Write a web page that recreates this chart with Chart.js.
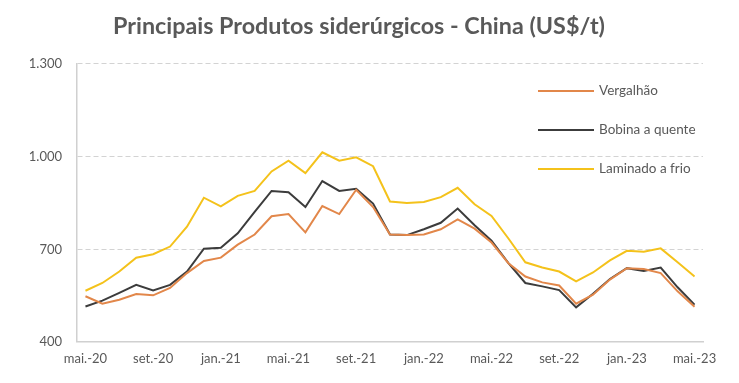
<!DOCTYPE html>
<html>
<head>
<meta charset="utf-8">
<script src="https://cdn.jsdelivr.net/npm/chart.js@4.4.0/dist/chart.umd.min.js"></script>
<style>
html,body{margin:0;padding:0;background:#fff;}
canvas{display:block;}
</style>
</head>
<body>
<canvas id="c" width="739" height="383"></canvas>
<script>
const months = ['jan.','fev.','mar.','abr.','mai.','jun.','jul.','ago.','set.','out.','nov.','dez.'];
const categories = [];
for (let y = 20; y <= 23; y++) {
  for (let m = 0; m < 12; m++) {
    if ((y === 20 && m < 4) || (y === 23 && m > 4)) continue;
    categories.push(months[m] + '-' + y);
  }
}
const vergalhao = [548,524,537,555,551,575,623,662,673,715,748,807,814,755,840,814,893,837,748,746,748,765,797,767,722,655,612,593,583,524,553,602,639,636,623,564,514];
const bobinaQuente = [515,534,559,585,567,585,628,702,705,752,821,889,885,837,921,889,896,848,748,746,765,786,832,778,728,655,591,580,568,512,556,604,639,630,641,577,521];
const laminadoFrio = [566,591,628,673,684,709,773,867,839,873,889,952,987,947,1014,987,998,969,855,850,853,869,899,846,808,735,658,641,628,596,625,664,695,692,703,658,612];
const seriesNames = ['Vergalhão','Bobina a quente','Laminado a frio'];
const yTicks = [400,700,1000,1300];
const titleText = 'Principais Produtos siderúrgicos - China (US$/t)';

const colors = ['#E2874A','#3C3C3C','#F4C21B'];
const textColor = '#595959';

const legendPlugin = {
  id: 'insideLegend',
  afterDatasetsDraw(chart) {
    const ctx = chart.ctx;
    const ca = chart.chartArea;
    ctx.save();
    ctx.font = '13.5px Lato';
    ctx.textBaseline = 'middle';
    ctx.textAlign = 'left';
    chart.data.datasets.forEach((ds, i) => {
      const y = ca.top + 27 + 39 * i;
      const x0 = ca.right - 165;
      ctx.strokeStyle = ds.borderColor;
      ctx.lineWidth = 2;
      ctx.beginPath();
      ctx.moveTo(x0, y);
      ctx.lineTo(x0 + 56, y);
      ctx.stroke();
      ctx.fillStyle = textColor;
      ctx.fillText(ds.label, x0 + 61, y);
    });
    ctx.restore();
  }
};

new Chart(document.getElementById('c'), {
  type: 'line',
  data: {
    labels: categories,
    datasets: [
      {label: seriesNames[0], data: vergalhao, borderColor: colors[0], backgroundColor: colors[0]},
      {label: seriesNames[1], data: bobinaQuente, borderColor: colors[1], backgroundColor: colors[1]},
      {label: seriesNames[2], data: laminadoFrio, borderColor: colors[2], backgroundColor: colors[2]}
    ]
  },
  options: {
    responsive: false,
    animation: false,
    devicePixelRatio: 1,
    layout: {padding: {left: 15, right: 36, top: 0, bottom: 0}},
    elements: {
      line: {borderWidth: 2, tension: 0},
      point: {radius: 0}
    },
    plugins: {
      legend: {display: false},
      tooltip: {enabled: false},
      title: {
        display: true,
        text: titleText,
        color: textColor,
        font: {family: 'Lato', size: 23.3, weight: 'bold'},
        padding: {top: 12, bottom: 24}
      }
    },
    scales: {
      x: {
        offset: true,
        grid: {display: false, drawTicks: false},
        border: {display: true, color: '#D0D0D0', width: 1.5},
        ticks: {
          autoSkip: false,
          maxRotation: 0,
          padding: 9,
          color: textColor,
          font: {family: 'Lato', size: 13},
          callback: function(v, i) { return i % 4 === 0 ? categories[i] : ''; }
        },
        afterFit: (s) => { s.height = 41; }
      },
      y: {
        min: 400,
        max: 1300,
        afterBuildTicks: (s) => { s.ticks = yTicks.map(v => ({value: v})); },
        grid: {
          drawTicks: false,
          color: (c) => c.tick && c.tick.value === 400 ? 'rgba(0,0,0,0)' : '#D3D3D3',
          lineWidth: 1
        },
        border: {display: true, color: '#D0D0D0', width: 1.5, dash: [5,3]},
        ticks: {
          padding: 15,
          color: textColor,
          font: {family: 'Lato', size: 13},
          callback: (v) => v.toLocaleString('de-DE')
        },
        afterFit: (s) => { s.width = 62; }
      }
    }
  },
  plugins: [legendPlugin]
});
</script>
</body>
</html>
